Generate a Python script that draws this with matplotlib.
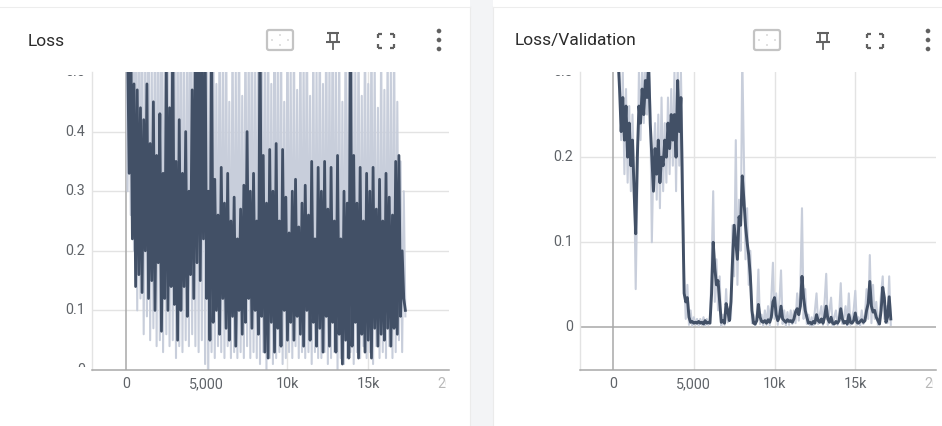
import numpy as np
import matplotlib
matplotlib.use("Agg")
import matplotlib.pyplot as plt
from matplotlib.patches import FancyBboxPatch, Circle, Rectangle
from matplotlib.transforms import Bbox, TransformedBbox, blended_transform_factory, offset_copy

plt.rcParams['font.family'] = ['Roboto', 'DejaVu Sans']

# -----------------------------
# Data
# -----------------------------
# Loss (train), one point every 100 steps from step 0
LOSS_STEP0 = 0
LOSS_RAW = [
    0.7, 0.3, 0.65, 0.26, 0.7, 0.2, 0.62, 0.1, 0.66, 0.12,
    0.62, 0.06, 0.55, 0.09, 0.7, 0.05, 0.5, 0.07, 0.65, 0.04,
    0.6, 0.05, 0.68, 0.03, 0.55, 0.06, 0.7, 0.04, 0.5, 0.05,
    0.66, 0.02, 0.58, 0.04, 0.7, 0.03, 0.52, 0.05, 0.62, 0.04,
    0.7, 0.06, 0.6, 0.04, 0.75, 0.03, 0.66, 0.05, 0.7, 0.01,
    0.6, 0.0, 0.55, 0.03, 0.68, 0.02, 0.48, 0.04, 0.6, 0.03,
    0.52, 0.02, 0.62, 0.04, 0.45, 0.02, 0.58, 0.03, 0.5, 0.02,
    0.62, 0.03, 0.46, 0.02, 0.6, 0.04, 0.54, 0.02, 0.66, 0.03,
    0.5, 0.02, 0.7, 0.01, 0.6, 0.03, 0.55, 0.0, 0.62, 0.02,
    0.48, 0.01, 0.65, 0.02, 0.52, 0.03, 0.6, 0.01, 0.45, 0.02,
    0.62, 0.03, 0.5, 0.02, 0.58, 0.04, 0.47, 0.02, 0.6, 0.03,
    0.52, 0.02, 0.64, 0.03, 0.46, 0.01, 0.58, 0.03, 0.5, 0.02,
    0.6, 0.02, 0.48, 0.03, 0.62, 0.01, 0.52, 0.02, 0.66, 0.03,
    0.5, 0.0, 0.58, 0.02, 0.45, 0.01, 0.6, 0.02, 0.52, 0.03,
    0.64, 0.01, 0.5, 0.03, 0.58, 0.02, 0.46, 0.04, 0.6, 0.02,
    0.48, 0.03, 0.6, 0.01, 0.52, 0.04, 0.44, 0.02, 0.56, 0.03,
    0.47, 0.02, 0.55, 0.04, 0.5, 0.02, 0.58, 0.03, 0.45, 0.05,
    0.35, 0.03, 0.3, 0.09,
]
LOSS_SMOOTH = [
    0.62, 0.55, 0.33, 0.58, 0.22, 0.48, 0.14, 0.47, 0.16, 0.44,
    0.13, 0.42, 0.2, 0.48, 0.12, 0.38, 0.15, 0.45, 0.1, 0.36,
    0.18, 0.43, 0.065, 0.33, 0.12, 0.52, 0.1, 0.44, 0.14, 0.58,
    0.11, 0.35, 0.05, 0.42, 0.1, 0.33, 0.14, 0.4, 0.09, 0.3,
    0.16, 0.47, 0.12, 0.55, 0.18, 0.62, 0.15, 0.5, 0.22, 0.58,
    0.12, 0.3, 0.05, 0.58, 0.08, 0.32, 0.1, 0.26, 0.06, 0.34,
    0.12, 0.28, 0.07, 0.33, 0.05, 0.25, 0.09, 0.29, 0.04, 0.22,
    0.1, 0.27, 0.06, 0.31, 0.08, 0.4, 0.12, 0.3, 0.07, 0.33,
    0.1, 0.25, 0.06, 0.6, 0.09, 0.36, 0.03, 0.28, 0.02, 0.37,
    0.08, 0.3, 0.03, 0.38, 0.07, 0.25, 0.04, 0.37, 0.1, 0.29,
    0.05, 0.23, 0.08, 0.3, 0.05, 0.32, 0.09, 0.24, 0.06, 0.28,
    0.04, 0.31, 0.1, 0.26, 0.05, 0.35, 0.08, 0.22, 0.04, 0.34,
    0.07, 0.3, 0.03, 0.35, 0.09, 0.27, 0.04, 0.34, 0.08, 0.25,
    0.03, 0.36, 0.06, 0.22, 0.01, 0.3, 0.05, 0.28, 0.02, 0.6,
    0.04, 0.36, 0.08, 0.28, 0.02, 0.34, 0.06, 0.25, 0.03, 0.33,
    0.05, 0.3, 0.02, 0.34, 0.07, 0.27, 0.04, 0.32, 0.06, 0.25,
    0.05, 0.33, 0.07, 0.29, 0.04, 0.26, 0.07, 0.35, 0.06, 0.36,
    0.09, 0.2, 0.12, 0.1,
]

# Loss/Validation, one point every 100 steps from step 300
VAL_STEP0 = 300
VAL_RAW = [
    0.33, 0.3, 0.22, 0.3, 0.18, 0.28, 0.17, 0.26, 0.16, 0.25,
    0.18, 0.045, 0.16, 0.3, 0.22, 0.31, 0.24, 0.32, 0.25, 0.32,
    0.26, 0.1, 0.2, 0.24, 0.15, 0.25, 0.14, 0.27, 0.16, 0.24,
    0.17, 0.27, 0.18, 0.28, 0.19, 0.3, 0.16, 0.31, 0.19, 0.3,
    0.2, 0.06, 0.01, 0.05, 0.003, 0.02, 0.002, 0.012, 0.003, 0.01,
    0.002, 0.01, 0.003, 0.012, 0.002, 0.01, 0.003, 0.008, 0.07, 0.16,
    0.03, 0.08, 0.02, 0.06, 0.002, 0.015, 0.003, 0.045, 0.006, 0.02,
    0.01, 0.12, 0.06, 0.22, 0.05, 0.15, 0.09, 0.32, 0.2, 0.08,
    0.14, 0.05, 0.09, 0.005, 0.015, 0.002, 0.015, 0.068, 0.004, 0.015,
    0.002, 0.02, 0.003, 0.025, 0.002, 0.035, 0.076, 0.01, 0.04, 0.003,
    0.03, 0.067, 0.004, 0.02, 0.002, 0.018, 0.003, 0.02, 0.004, 0.02,
    0.005, 0.04, 0.008, 0.05, 0.14, 0.01, 0.045, 0.004, 0.015, 0.002,
    0.012, 0.002, 0.02, 0.04, 0.004, 0.015, 0.025, 0.003, 0.03, 0.063,
    0.003, 0.02, 0.035, 0.002, 0.012, 0.02, 0.003, 0.015, 0.052, 0.004,
    0.012, 0.025, 0.002, 0.04, 0.003, 0.012, 0.02, 0.043, 0.003, 0.012,
    0.002, 0.02, 0.004, 0.015, 0.045, 0.01, 0.085, 0.005, 0.05, 0.01,
    0.03, 0.003, 0.015, 0.04, 0.06, 0.01, 0.025, 0.005, 0.06, 0.003,
]
VAL_SMOOTH = [
    0.32, 0.28, 0.23, 0.27, 0.22, 0.26, 0.2, 0.24, 0.19, 0.22,
    0.16, 0.11, 0.2, 0.26, 0.24, 0.28, 0.25, 0.29, 0.27, 0.31,
    0.24, 0.2, 0.16, 0.21, 0.18, 0.22, 0.17, 0.2, 0.19, 0.22,
    0.2, 0.24, 0.21, 0.25, 0.22, 0.25, 0.2, 0.29, 0.23, 0.27,
    0.15, 0.04, 0.03, 0.035, 0.012, 0.006, 0.007, 0.005, 0.006, 0.005,
    0.007, 0.005, 0.006, 0.004, 0.008, 0.005, 0.006, 0.005, 0.04, 0.1,
    0.07, 0.05, 0.055, 0.03, 0.006, 0.008, 0.005, 0.028, 0.02, 0.008,
    0.03, 0.08, 0.12, 0.1, 0.08, 0.13, 0.12, 0.178, 0.15, 0.12,
    0.1, 0.085, 0.06, 0.02, 0.005, 0.004, 0.008, 0.027, 0.012, 0.007,
    0.006, 0.008, 0.005, 0.009, 0.006, 0.012, 0.03, 0.035, 0.015, 0.008,
    0.012, 0.025, 0.01, 0.008, 0.006, 0.009, 0.007, 0.008, 0.006, 0.01,
    0.018, 0.022, 0.015, 0.025, 0.06, 0.035, 0.02, 0.012, 0.005, 0.006,
    0.004, 0.007, 0.005, 0.015, 0.008, 0.006, 0.01, 0.005, 0.012, 0.025,
    0.01, 0.006, 0.012, 0.005, 0.004, 0.007, 0.005, 0.008, 0.022, 0.01,
    0.005, 0.007, 0.004, 0.015, 0.006, 0.005, 0.008, 0.017, 0.006, 0.005,
    0.007, 0.009, 0.006, 0.008, 0.02, 0.028, 0.054, 0.025, 0.018, 0.02,
    0.012, 0.008, 0.004, 0.02, 0.047, 0.035, 0.006, 0.012, 0.036, 0.01,
]
STEP_SIZE = 100

X_TICKS = [0, 5000, 10000, 15000, 20000]
X_TICK_LABELS = ["0", "5,000", "10k", "15k", "20k"]
LOSS_Y_TICKS = [0, 0.1, 0.2, 0.3, 0.4, 0.5]
LOSS_Y_LABELS = ["0", "0.1", "0.2", "0.3", "0.4", "0.5"]
VAL_Y_TICKS = [0, 0.1, 0.2, 0.3]
VAL_Y_LABELS = ["0", "0.1", "0.2", "0.3"]

DARK = "#425066"
LIGHT = "#c8cedb"
GRID = "#e3e3e3"
AXIS = "#a8a8a8"
LABEL = "#5f6368"
ICON = "#616161"

W, H = 942, 426
fig = plt.figure(figsize=(W / 100, H / 100), dpi=100)
fig.patch.set_facecolor("white")

# background layer in pixel coordinates (cards, gap strip, header icons)
bg = fig.add_axes([0, 0, 1, 1], zorder=-5)
bg.set_xlim(0, W)
bg.set_ylim(H, 0)
bg.axis("off")
bg.add_patch(Rectangle((470, 0), 23, H, color="#f3f4f6", lw=0))
bg.plot([470, 470], [7, H], color="#ebebeb", lw=0.8)
bg.plot([493, 493], [7, H], color="#ebebeb", lw=0.8)
bg.plot([0, 470], [7, 7], color="#ededed", lw=0.8)
bg.plot([493, W], [7, 7], color="#ededed", lw=0.8)


def header(title, tx, box_x, pin_x, full_x, dots_x):
    bg.text(tx, 41, title, fontsize=12.5, color="#2b2b2b", va="center", ha="left")
    # fit-domain box
    bg.add_patch(FancyBboxPatch((box_x - 13, 30), 26, 20, boxstyle="round,pad=0,rounding_size=2",
                                fc="none", ec="#c4c4c4", lw=1.6))
    for dx, dy in [(0, -5), (0, 5), (-8, 0), (8, 0)]:
        bg.add_patch(Circle((box_x + dx, 40 + dy), 0.8, color="#c4c4c4", lw=0))
    # pin
    bg.plot([pin_x - 6, pin_x + 6], [33, 33], color=ICON, lw=1.5, solid_capstyle="butt")
    bg.plot([pin_x - 3.5, pin_x - 3.5], [33, 41], color=ICON, lw=1.3)
    bg.plot([pin_x + 3.5, pin_x + 3.5], [33, 41], color=ICON, lw=1.3)
    bg.plot([pin_x - 7, pin_x + 7], [41.5, 41.5], color=ICON, lw=1.5, solid_capstyle="butt")
    bg.plot([pin_x, pin_x], [41.5, 49], color=ICON, lw=1.3)
    # fullscreen corners
    for sx in (-1, 1):
        for sy in (-1, 1):
            cx, cy = full_x + sx * 8, 41 + sy * 7
            bg.plot([cx, cx - sx * 4], [cy, cy], color=ICON, lw=1.6, solid_capstyle="butt")
            bg.plot([cx, cx], [cy, cy - sy * 4], color=ICON, lw=1.6, solid_capstyle="butt")
    # more menu
    for dy in (-9, 0, 9):
        bg.add_patch(Circle((dots_x, 40 + dy), 2.3, color=ICON, lw=0))


header("Loss", 28, 280, 333, 386, 439)
header("Loss/Validation", 515, 767, 823, 875, 928)


def panel(rect, steps0, raw, smooth, xlim, ylim, yticks, ylabels, zero_h, lw_dark):
    ax = fig.add_axes(rect)
    ax.set_facecolor("white")
    steps = steps0 + STEP_SIZE * np.arange(len(raw))
    ax.plot(steps, raw, color=LIGHT, lw=1.5, zorder=2)
    ax.plot(steps, smooth, color=DARK, lw=lw_dark, zorder=3)
    ax.set_xlim(*xlim)
    ax.set_ylim(*ylim)

    for y in yticks:
        if y == 0 and zero_h:
            ax.axhline(y, color=AXIS, lw=1.1, zorder=1.5)
        elif ylim[0] < y < ylim[1]:
            ax.axhline(y, color=GRID, lw=1.0, zorder=1)
    for x in X_TICKS:
        if x == 0:
            ax.axvline(x, color=AXIS, lw=1.1, zorder=1.5)
        elif x < xlim[1]:
            ax.axvline(x, color=GRID, lw=1.0, zorder=1)

    for side in ("top", "right"):
        ax.spines[side].set_visible(False)
    ax.spines["left"].set_color(GRID)
    ax.spines["left"].set_linewidth(1.0)
    ax.spines["bottom"].set_color(AXIS)
    ax.spines["bottom"].set_linewidth(1.1)
    ax.set_xticks([])
    ax.set_yticks([])

    # tick labels drawn as text so they can be clipped like TensorBoard does
    pos = ax.get_position()
    py = 3 / H
    px = 3 / W
    clip_y = TransformedBbox(Bbox([[0, pos.y0 + py], [pos.x1, pos.y1 - py]]), fig.transFigure)
    clip_x = TransformedBbox(Bbox([[pos.x0, 0], [pos.x1 - px, pos.y1]]), fig.transFigure)
    ytr = offset_copy(blended_transform_factory(ax.transAxes, ax.transData), fig=fig, x=-7, y=0, units="dots")
    for y, s in zip(yticks, ylabels):
        t = ax.text(0, y, s, transform=ytr, ha="right", va="center", fontsize=10.3, color=LABEL)
        t.set_clip_box(clip_y)
        t.set_clip_on(True)
    xtr = offset_copy(blended_transform_factory(ax.transData, ax.transAxes), fig=fig, x=0, y=-7, units="dots")
    for x, s in zip(X_TICKS, X_TICK_LABELS):
        t = ax.text(x, 0, s, transform=xtr, ha="center", va="top", fontsize=10.3,
                    color="#b8b8b8" if x >= xlim[1] else LABEL)
        t.set_clip_box(clip_x)
        t.set_clip_on(True)
    return ax


panel([92 / W, 1 - 370 / H, 357 / W, 298 / H], LOSS_STEP0, LOSS_RAW, LOSS_SMOOTH,
      (-2100, 20000), (0, 0.5), LOSS_Y_TICKS, LOSS_Y_LABELS, False, 2.0)
panel([580 / W, 1 - 370 / H, 356 / W, 298 / H], VAL_STEP0, VAL_RAW, VAL_SMOOTH,
      (-2050, 20000), (-0.05, 0.3), VAL_Y_TICKS, VAL_Y_LABELS, True, 2.1)

fig.savefig("out.png", dpi=100)
